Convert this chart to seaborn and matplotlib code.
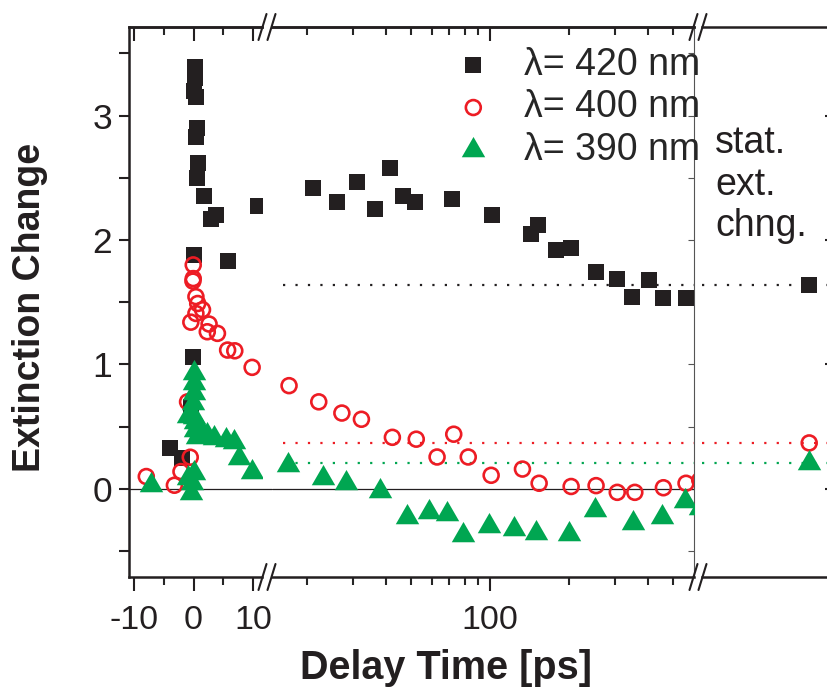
import matplotlib
matplotlib.use("Agg")
import matplotlib.pyplot as plt
from matplotlib.lines import Line2D
from matplotlib.ticker import MultipleLocator, FixedLocator, NullFormatter
import seaborn as sns

sns.set_theme(style="ticks")
plt.rcParams["font.family"] = ["Liberation Sans", "DejaVu Sans"]
plt.rcParams["axes.unicode_minus"] = False

# delay times (ps) and extinction change
# linear part (-10 .. 10 ps)
t420_lin = [0.3, 0.3, 0.1, 0.4, 0.55, 0.4, 0.8, 0.55, 1.7, 2.9, 3.7, 10.8, 0.0, 5.8, -0.4, -0.05, -3.95, -1.95]
e420_lin = [3.39, 3.30, 3.20, 3.15, 2.90, 2.83, 2.62, 2.50, 2.35, 2.17, 2.20, 2.27, 1.88, 1.83, 0.66, 1.06, 0.33, 0.25]
t400_lin = [-7.9, -3.2, -2.1, -0.55, -1.0, -0.05, -0.05, -0.1, 0.4, 0.7, 1.5, 0.4, -0.45, 2.6, 2.3, 4.0, 5.7, 6.9, 9.8]
e400_lin = [0.10, 0.03, 0.14, 0.255, 0.70, 1.80, 1.69, 1.67, 1.545, 1.49, 1.44, 1.41, 1.34, 1.325, 1.263, 1.25, 1.116, 1.11, 0.977]
t390_lin = [-7.1, 0.1, 0.1, 0.1, -0.1, -1.0, 0.1, 0.2, 0.3, 0.5, 1.2, 2.3, 3.4, 5.4, 6.8, 7.6, 9.7, -1.0, -0.2, -0.5, 0.1]
e390_lin = [0.03, 0.93, 0.85, 0.77, 0.69, 0.59, 0.58, 0.54, 0.47, 0.42, 0.47, 0.434, 0.41, 0.39, 0.38, 0.25, 0.14, 0.086, 0.046, -0.035, 0.126]

# logarithmic part (> 10 ps)
t420_log = [21.1, 26.1, 31.2, 36.3, 41.4, 46.6, 51.6, 71.8, 101.8, 143, 153, 178.6, 203, 254, 304.5, 347.6, 405.6, 458.6, 558.6]
e420_log = [2.418, 2.305, 2.468, 2.247, 2.581, 2.356, 2.308, 2.329, 2.201, 2.048, 2.12, 1.92, 1.938, 1.741, 1.684, 1.545, 1.679, 1.532, 1.532]
t400_log = [17.1, 22.2, 27.2, 32.3, 42.4, 52.3, 62.8, 72.7, 82.6, 101, 133, 154, 204, 254, 306, 357, 459, 560, 632]
e400_log = [0.83, 0.70, 0.61, 0.56, 0.415, 0.40, 0.257, 0.44, 0.257, 0.11, 0.16, 0.046, 0.02, 0.027, -0.027, -0.027, 0.01, 0.046, 0.07]
t390_log = [17.0, 23.0, 28.1, 38.1, 48.3, 58.5, 68.5, 78.7, 99.2, 123.8, 149.4, 200.3, 251.5, 352, 455, 554.7, 632]
e390_log = [0.19, 0.086, 0.046, -0.013, -0.227, -0.185, -0.20, -0.37, -0.30, -0.32, -0.356, -0.361, -0.169, -0.27, -0.227, -0.10, -0.15]

# static extinction change (right panel)
stat_pos = [0.8]
stat420 = [1.64]
stat400 = [0.37]
stat390 = [0.21]

labels = ["\u03bb= 420 nm", "\u03bb= 400 nm", "\u03bb= 390 nm"]
black, red, green = "#231f20", "#ed1c24", "#00a651"

W, H = 828, 689
fig = plt.figure(figsize=(W / 100, H / 100), dpi=100)


def box(l, r, t=27, b=577):
    return [l / W, 1 - b / H, (r - l) / W, (b - t) / H]


ax1 = fig.add_axes(box(129, 262))
ax2 = fig.add_axes(box(272, 694), sharey=ax1)
ax3 = fig.add_axes(box(702, 836), sharey=ax1)


def draw(ax, x4, y4, x0, y0, x9, y9, lab=False):
    sns.scatterplot(x=x4, y=y4, ax=ax, marker="s", color=black, s=140, linewidth=0,
                    label=labels[0] if lab else None, zorder=3)
    sns.scatterplot(x=x0, y=y0, ax=ax, marker="o", color=red, facecolors="none",
                    edgecolor=red, s=115, linewidth=1.9,
                    label=labels[1] if lab else None, zorder=4)
    sns.scatterplot(x=x9, y=y9, ax=ax, marker=(3, 0, 0), color=green, s=380, linewidth=0,
                    label=labels[2] if lab else None, zorder=5)


draw(ax1, t420_lin, e420_lin, t400_lin, e400_lin, t390_lin, e390_lin)
draw(ax2, t420_log, e420_log, t400_log, e400_log, t390_log, e390_log, lab=True)
draw(ax3, stat_pos, stat420, stat_pos, stat400, stat_pos, stat390)

ax2.set_xscale("log")
ax1.set_xlim(-10.79, 11.45)
ax2.set_xlim(14.72, 600.6)
ax3.set_xlim(0, 1)
ax1.set_ylim(-0.707, 3.711)

# zero line and static levels
ax1.axhline(0, xmax=1.08, color=black, lw=0.9, zorder=1, clip_on=False)
ax2.axhline(0, color=black, lw=0.9, zorder=1)
for v, c in zip([stat420[0], stat400[0], stat390[0]], [black, red, green]):
    ax2.axhline(v, xmin=0.026, color=c, lw=1.6, ls=(0, (1, 4.6)), zorder=1)
    ax3.axhline(v, color=c, lw=1.6, ls=(0, (1, 4.6)), zorder=1)

for ax in (ax1, ax2, ax3):
    ax.set_xlabel("")
    ax.set_ylabel("")
    for sp in ax.spines.values():
        sp.set_color(black)
        sp.set_linewidth(1.8)
    if ax.get_legend() is not None and ax is not ax2:
        ax.get_legend().remove()

ax1.spines["right"].set_visible(False)
ax2.spines["left"].set_visible(False)
ax2.spines["right"].set_linewidth(0.8)
ax2.spines["right"].set_color("#555555")
ax3.spines["left"].set_visible(False)

# y axis
ax1.yaxis.set_major_locator(MultipleLocator(1))
ax1.yaxis.set_minor_locator(MultipleLocator(0.5))
ax1.tick_params(axis="y", which="both", direction="out", left=True, right=False,
                length=7, width=1.5, labelsize=25.5, pad=5, colors=black)
ax2.tick_params(axis="y", which="both", left=False, right=True, labelleft=False,
                direction="in", length=4, width=0.8, colors="#555555")
ax3.tick_params(axis="y", which="major", left=False, right=True, labelleft=False,
                direction="in", length=8, width=1.5, colors=black)
ax3.tick_params(axis="y", which="minor", left=False, right=False)

# x axis, bottom (outward)
ax1.set_xticks([-10, 0, 10], labels=["-10", "0", "10"])
ax1.xaxis.set_minor_locator(MultipleLocator(5))
log_minor = [20, 30, 40, 50, 60, 70, 80, 90, 200, 300, 400, 500]
ax2.set_xticks([100], labels=["100"])
ax2.xaxis.set_minor_locator(FixedLocator(log_minor))
ax2.xaxis.set_minor_formatter(NullFormatter())
ax3.set_xticks([])
for ax in (ax1, ax2):
    ax.tick_params(axis="x", which="major", direction="out", bottom=True, top=False,
                   length=10, width=1.5, labelsize=24.5, pad=10, colors=black)
    ax.tick_params(axis="x", which="minor", direction="out", bottom=True, top=False,
                   length=6, width=1.5)

# x axis, top (inward)
for ax, major, minor in ((ax1, [-10, 0, 10], [-5, 5]), (ax2, [100], log_minor)):
    sec = ax.secondary_xaxis("top")
    sec.set_xticks(major)
    sec.xaxis.set_minor_locator(FixedLocator(minor))
    sec.xaxis.set_minor_formatter(NullFormatter())
    sec.tick_params(axis="x", which="major", direction="in", length=10, width=1.5,
                    labeltop=False, colors=black)
    sec.tick_params(axis="x", which="minor", direction="in", length=6, width=1.5,
                    labeltop=False)
    sec.spines["top"].set_linewidth(1.8)
    sec.spines["top"].set_color(black)

# legend
ax2.legend(loc="upper left", bbox_to_anchor=(448 / W, 1 - 47 / H),
           bbox_transform=fig.transFigure, frameon=False, fontsize=27,
           handlelength=1.35, handletextpad=0.68, labelspacing=0.17,
           borderpad=0, borderaxespad=0, scatterpoints=1)

# axis break marks
for cx in (267, 698):
    for cy in (27, 577):
        for dx in (-4.5, 4.5):
            fig.add_artist(Line2D([(cx + dx - 4) / W, (cx + dx + 4) / W],
                                  [1 - (cy + 13) / H, 1 - (cy - 13) / H],
                                  transform=fig.transFigure, color=black, lw=1.5))

fig.text(715 / W, 1 - 125 / H, "stat.\next.\nchng.", fontsize=27, va="top",
         ha="left", color=black, linespacing=1.2)
fig.text(30 / W, 1 - 307 / H, "Extinction Change", rotation=90, fontsize=27,
         fontweight="bold", ha="center", va="center", color=black)
fig.text(446 / W, 1 - 687 / H, "Delay Time [ps]", fontsize=28.5,
         fontweight="bold", ha="center", va="bottom", color=black)

fig.savefig("out.png", dpi=100)
